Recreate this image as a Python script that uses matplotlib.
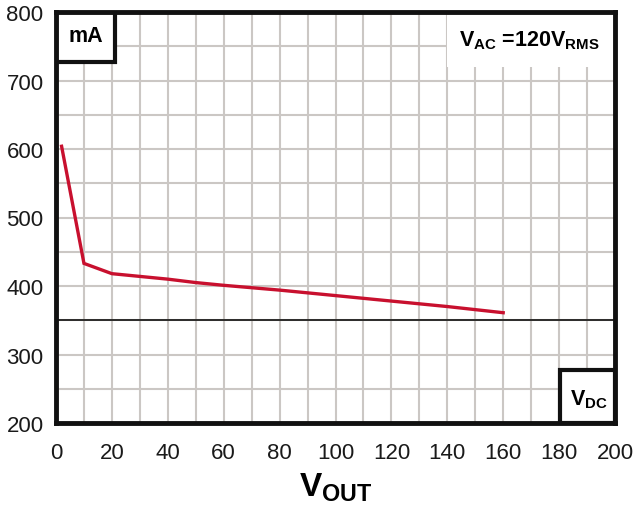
import matplotlib
matplotlib.use("Agg")
import matplotlib.pyplot as plt
from matplotlib.patches import Rectangle

plt.rcParams["font.family"] = ["Liberation Sans", "DejaVu Sans"]
plt.rcParams["mathtext.fontset"] = "custom"
plt.rcParams["mathtext.rm"] = "Liberation Sans"
plt.rcParams["mathtext.bf"] = "Liberation Sans:bold"

# data
vout = [2, 10, 20, 30, 40, 50, 60, 80, 100, 120, 140, 160]
ma = [604, 433, 418, 414, 410, 405, 401, 394, 386, 378, 370, 361]
xticks = list(range(0, 201, 20))
yticks = list(range(200, 801, 100))

fig = plt.figure(figsize=(6.39, 5.06), dpi=100)
ax = fig.add_axes([56/639, (506-424)/506, (615-56)/639, (424-13)/506])
ax.set_xlim(0, 200)
ax.set_ylim(200, 800)

for x in range(10, 200, 10):
    ax.axvline(x, color="#cbc7c4", lw=1.5, zorder=1)
for y in range(250, 800, 50):
    ax.axhline(y, color="#cbc7c4", lw=1.5, zorder=1)
ax.axhline(350, color="#111111", lw=1.2, zorder=2)

ax.plot(vout, ma, color="#c8102e", lw=2.4, zorder=3, solid_joinstyle="miter")

ax.set_xticks(xticks)
ax.set_yticks(yticks)
ax.tick_params(length=0, labelsize=16, labelcolor="#1a1a1a")
ax.tick_params(axis="x", pad=14)
ax.tick_params(axis="y", pad=9)
for s in ax.spines.values():
    s.set_linewidth(3.5)
    s.set_color("#111111")
    s.set_zorder(10)

# label boxes
ax.add_patch(Rectangle((0, 727), 21, 73, facecolor="white", edgecolor="#111111", lw=3, zorder=5))
ax.text(10.5, 765, "mA", ha="center", va="center", fontsize=15.5, fontweight="bold", zorder=6)
ax.add_patch(Rectangle((140, 720), 60, 80, facecolor="white", edgecolor="none", zorder=5))
ax.text(169.5, 759, r"$\mathbf{V_{AC}}$ =120$\mathbf{V_{RMS}}$", ha="center", va="center",
        fontsize=15.5, fontweight="bold", zorder=6)
ax.add_patch(Rectangle((180.5, 200), 19.5, 77, facecolor="white", edgecolor="#111111", lw=3, zorder=5))
ax.text(190.5, 235, r"$\mathbf{V_{DC}}$", ha="center", va="center", fontsize=15.5, zorder=6)

ax.set_xlabel(r"$\mathbf{V_{OUT}}$", fontsize=24, labelpad=5)

fig.savefig("out.png", dpi=100)
